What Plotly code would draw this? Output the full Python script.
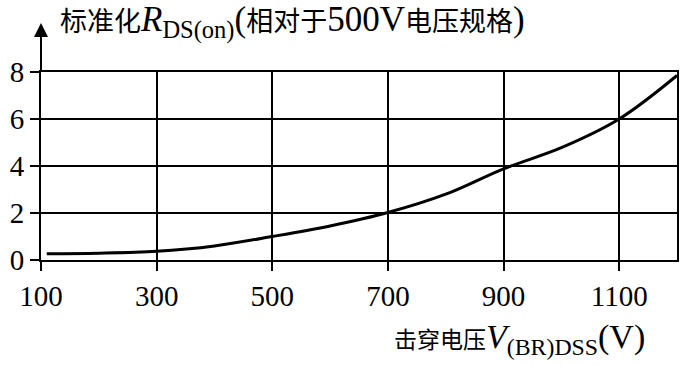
import plotly.graph_objects as go

voltage = [110, 200, 300, 400, 500, 600, 700, 800, 900, 1000, 1100, 1200]
rds_norm = [0.27, 0.29, 0.37, 0.6, 1.0, 1.45, 2.02, 2.8, 3.88, 4.78, 6.0, 7.85]
x_ticks = [100, 300, 500, 700, 900, 1100]
y_ticks = [0, 2, 4, 6, 8]

FONT = "Liberation Serif, Noto Sans CJK SC, serif"
CJK = "<span style='font-size:27px'>{}</span>"
CJK2 = "<span style='font-size:23px'>{}</span>"

L, R, T, B = 41, 6, 72, 106
W, H = 683, 366
pw, ph = W - L - R, H - T - B

def px_x(x):
    return (x - L) / pw

def px_y(y):
    return (H - B - y) / ph

fig = go.Figure()
fig.add_trace(go.Scatter(x=voltage, y=rds_norm, mode="lines",
                         line=dict(color="black", width=3, shape="spline"),
                         showlegend=False, hoverinfo="skip"))

fig.update_layout(
    width=W, height=H,
    margin=dict(l=L, r=R, t=T, b=B),
    paper_bgcolor="white", plot_bgcolor="white",
    font=dict(family=FONT, color="black", size=26),
)
common = dict(showgrid=True, gridcolor="black", gridwidth=2,
              showline=True, linecolor="black", linewidth=2, mirror=True,
              ticks="outside", ticklen=9, tickwidth=2, tickcolor="black",
              tickfont=dict(size=29, family=FONT), zeroline=False,
              automargin=False)
fig.update_xaxes(range=[100, 1200], tickvals=x_ticks,
                 ticktext=[str(v) for v in x_ticks], **common)
fig.update_yaxes(range=[0, 8], tickvals=y_ticks,
                 ticktext=[str(v) for v in y_ticks], **common)

# axis arrow on the y axis
fig.add_annotation(x=100, y=px_y(23), xref="x", yref="paper",
                   ax=0, ay=49, axref="pixel", ayref="pixel",
                   showarrow=True, arrowhead=2, arrowsize=1.4, arrowwidth=2,
                   arrowcolor="black", text="")

title_text = (CJK.format("标准化") + "<i>R</i><sub>DS(on)</sub>("
              + CJK.format("相对于") + "500V" + CJK.format("电压规格") + ")")
fig.add_annotation(text=title_text,
                   x=px_x(58), y=px_y(22), xref="paper", yref="paper",
                   showarrow=False, xanchor="left", yanchor="middle",
                   font=dict(size=35, family=FONT))

xlabel_text = CJK2.format("击穿电压") + "<i>V</i><sub>(BR)DSS</sub>(V)"
fig.add_annotation(text=xlabel_text,
                   x=px_x(392), y=px_y(339), xref="paper", yref="paper",
                   showarrow=False, xanchor="left", yanchor="middle",
                   font=dict(size=34, family=FONT))

fig.write_html("out.html", config={"displayModeBar": False},
               post_script="document.body.style.margin='0';")
